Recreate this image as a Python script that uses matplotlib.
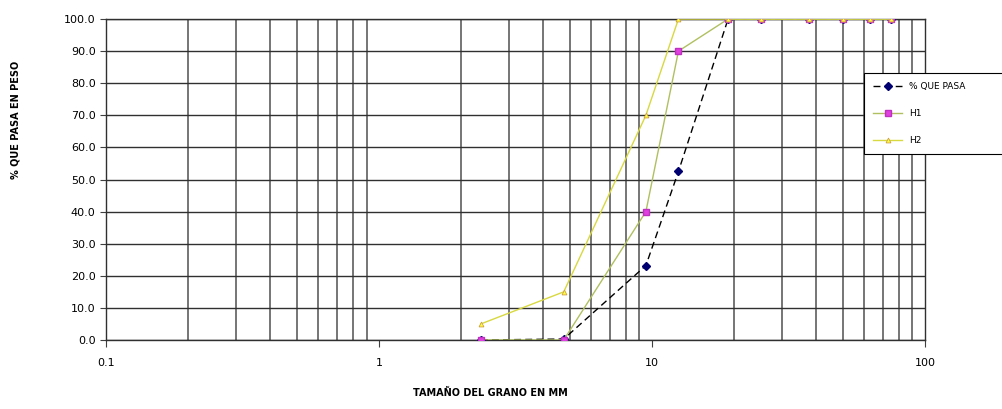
import matplotlib
matplotlib.use("Agg")
import matplotlib.pyplot as plt
from matplotlib.ticker import FixedLocator, NullFormatter

# tamices (mm)
tamiz = [2.36, 4.75, 9.5, 12.5, 19, 25, 37.5, 50, 63, 75]
que_pasa = [0.0, 0.3, 23.2, 52.5, 100, 100, 100, 100, 100, 100]
h1 = [0.0, 0.0, 40.0, 90.0, 100, 100, 100, 100, 100, 100]
h2 = [5.0, 15.0, 70.0, 100, 100, 100, 100, 100, 100, 100]

x_ticks = [0.1, 1, 10, 100]
x_ticklabels = ["0.1", "1", "10", "100"]
y_ticks = [0, 10, 20, 30, 40, 50, 60, 70, 80, 90, 100]

fig = plt.figure(figsize=(10.03, 4.09), dpi=100)
ax = fig.add_axes([0.1057, 0.1687, 0.8165, 0.7848])

ax.set_xscale("log")
ax.set_xlim(0.1, 100)
ax.set_ylim(0, 100)

# rejilla: horizontal en cada 10, vertical solo en los menores
minors = [m * d for d in (0.1, 1, 10) for m in range(2, 10)]
ax.xaxis.set_minor_locator(FixedLocator(minors))
ax.xaxis.set_minor_formatter(NullFormatter())
ax.set_xticks(x_ticks)
ax.set_xticklabels(x_ticklabels)
ax.set_yticks(y_ticks)
ax.set_yticklabels([f"{v:.1f}" for v in y_ticks])
ax.grid(True, which="minor", axis="x", color="#505050", linewidth=1.1)
ax.grid(True, which="major", axis="y", color="#303030", linewidth=1.0)
ax.tick_params(axis="x", which="minor", length=0)
ax.tick_params(axis="x", which="major", length=5, direction="out", labelsize=8, pad=8, color="#404040")
ax.tick_params(axis="y", length=4, direction="out", labelsize=8, color="#404040")
for s in ax.spines.values():
    s.set_color("#303030")
    s.set_linewidth(1.0)
ax.set_axisbelow(True)

ax.plot(tamiz, que_pasa, color="black", linestyle=(0, (5, 3)), linewidth=1.0,
        marker="D", markersize=4, markerfacecolor="#000070", markeredgecolor="#000070",
        label="% QUE PASA", zorder=3)
ax.plot(tamiz, h1, color="#b0c060", linewidth=1.0,
        marker="s", markersize=4, markerfacecolor="#e040e0", markeredgecolor="#c030c0",
        label="H1", zorder=3.5)
ax.plot(tamiz, h2, color="#d8d840", linewidth=1.0,
        marker="^", markersize=3.5, markerfacecolor="#ffff40", markeredgecolor="#d0a040",
        markeredgewidth=0.6, label="H2", zorder=4)

ax.set_ylabel("% QUE PASA EN PESO", fontsize=7, fontweight="bold")
ax.yaxis.set_label_coords(-0.104, 0.685)
fig.text(0.489, 0.04, "TAMAÑO DEL GRANO EN MM", fontsize=7, fontweight="bold",
         ha="center", va="center")

leg = fig.legend(loc="upper left", bbox_to_anchor=(0.857, 0.645, 0.2, 0.188),
                 mode="expand", fontsize=6.5, labelspacing=2.0, handlelength=3.2,
                 borderpad=1.0, fancybox=False, framealpha=1)
leg.get_frame().set_edgecolor("black")
leg.get_frame().set_linewidth(0.8)

fig.savefig("out.png", dpi=100)
